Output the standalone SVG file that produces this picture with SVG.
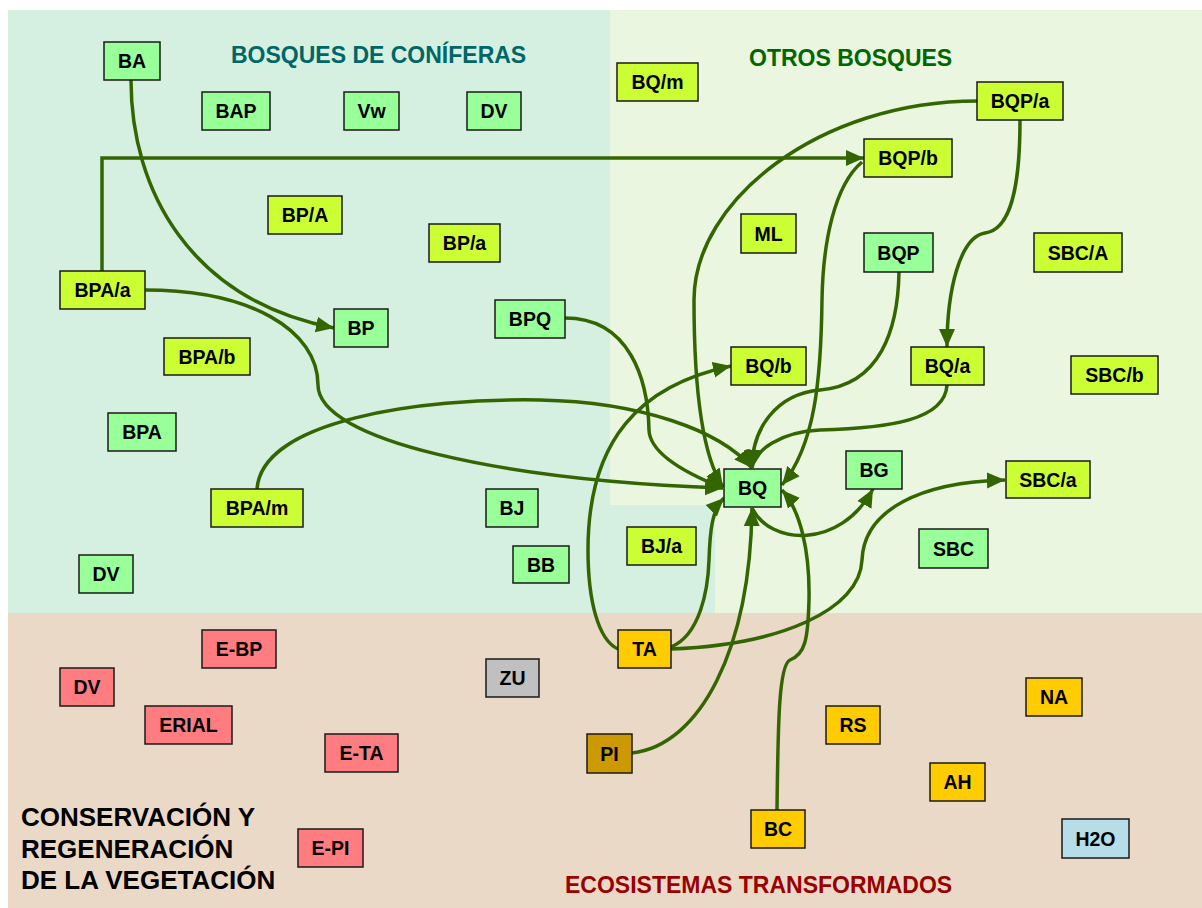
<svg xmlns="http://www.w3.org/2000/svg" width="1202" height="908" viewBox="0 0 1202 908">
<defs>
<marker id="ah" markerUnits="userSpaceOnUse" markerWidth="20" markerHeight="18" refX="18" refY="8" orient="auto" viewBox="0 0 20 16">
<path d="M0,0 L18,8 L0,16 Z" fill="#336600"/>
</marker>
<style>
.bg{stroke:none}
.n rect{stroke:#1a1a1a;stroke-width:1.5}
.n text{font-family:"Liberation Sans",Arial,sans-serif;font-weight:bold;font-size:19.5px;fill:#000;text-anchor:middle}
.g rect{fill:#99FF99}
.y rect{fill:#CCFF33}
.r rect{fill:#FF7C80}
.o rect{fill:#FFCC00}
.gr rect{fill:#C0C0C0}
.pi rect{fill:#CC9900}
.w rect{fill:#B7DDE8}
.c path{fill:none;stroke:#336600;stroke-width:3.5}
.t{font-family:"Liberation Sans",Arial,sans-serif;font-weight:bold}
</style>
</defs>
<rect x="0" y="0" width="1202" height="908" fill="#ffffff"/>
<path class="bg" d="M8,10 H610 V505 H715 V613 H8 Z" fill="#D5F0E0"/>
<path class="bg" d="M610,10 H1202 V613 H715 V505 H610 Z" fill="#EAF6DF"/>
<rect class="bg" x="8" y="613" width="1194" height="295" fill="#EBD9C8"/>
<text class="t" x="231" y="63" font-size="23" fill="#006666">BOSQUES DE CONÍFERAS</text>
<text class="t" x="749" y="66" font-size="23" fill="#006600">OTROS BOSQUES</text>
<text class="t" x="565" y="893" font-size="23" fill="#990000">ECOSISTEMAS TRANSFORMADOS</text>
<text class="t" font-size="26" fill="#000">
<tspan x="21" y="826">CONSERVACIÓN Y</tspan>
<tspan x="21" y="858">REGENERACIÓN</tspan>
<tspan x="21" y="889">DE LA VEGETACIÓN</tspan>
</text>
<g id="connectors" class="c">
<path marker-end="url(#ah)" d="M131,80 C131,190 190,300 334,328"/>
<path marker-end="url(#ah)" d="M102,271 L102,158 L864,158"/>
<path marker-end="url(#ah)" d="M145,290 C250,290 318,330 318,385 C318,440 500,480 723,488"/>
<path marker-end="url(#ah)" d="M565,318 C630,318 648,380 649,430 C650,455 690,475 723,488"/>
<path marker-end="url(#ah)" d="M257,489 C262,420 420,398 540,400 C640,402 720,430 752,468"/>
<path marker-end="url(#ah)" d="M977,101 C820,101 694,200 694,300 C694,400 705,460 723,487"/>
<path marker-end="url(#ah)" d="M862,162 C835,185 823,240 822,300 C821,380 815,445 782,485"/>
<path marker-end="url(#ah)" d="M899,272 C898,330 880,385 820,390 C775,394 752,430 752,468"/>
<path marker-end="url(#ah)" d="M947,385 C945,420 890,428 820,430 C780,432 755,450 752,468"/>
<path marker-end="url(#ah)" d="M1020,120 C1020,190 1010,230 985,233 C960,237 947,290 947,347"/>
<path marker-end="url(#ah)" d="M618,649 C598,640 588,600 588,550 C588,440 640,385 731,366"/>
<path marker-end="url(#ah)" d="M671,647 C700,635 708,590 709,560 C710,530 712,510 724,498"/>
<path marker-end="url(#ah)" d="M671,649 C780,645 860,610 862,560 C864,510 920,482 1005,480"/>
<path marker-end="url(#ah)" d="M632,753 C700,745 750,650 752,508"/>
<path marker-end="url(#ah)" d="M777,810 C778,720 779,665 790,660 C805,654 808,640 809,600 C810,550 800,510 782,490"/>
<path marker-end="url(#ah)" d="M752,508 C770,545 840,550 873,489"/>
</g>
<g id="n-BA" class="n g"><rect x="104" y="42" width="56" height="38"/><text x="132" y="68">BA</text></g>
<g id="n-BAP" class="n g"><rect x="202" y="92" width="68" height="38"/><text x="236" y="118">BAP</text></g>
<g id="n-Vw" class="n g"><rect x="344" y="92" width="55" height="38"/><text x="371.5" y="118">Vw</text></g>
<g id="n-DV1" class="n g"><rect x="467" y="92" width="54" height="38"/><text x="494" y="118">DV</text></g>
<g id="n-BP" class="n g"><rect x="334" y="309" width="54" height="38"/><text x="361" y="335">BP</text></g>
<g id="n-BPQ" class="n g"><rect x="495" y="300" width="70" height="38"/><text x="530" y="326">BPQ</text></g>
<g id="n-BPA" class="n g"><rect x="108" y="413" width="68" height="38"/><text x="142" y="439">BPA</text></g>
<g id="n-DV2" class="n g"><rect x="79" y="555" width="54" height="38"/><text x="106" y="581">DV</text></g>
<g id="n-BJ" class="n g"><rect x="486" y="489" width="52" height="38"/><text x="512" y="515">BJ</text></g>
<g id="n-BB" class="n g"><rect x="513" y="546" width="56" height="37"/><text x="541" y="571.5">BB</text></g>
<g id="n-BQ" class="n g"><rect x="724" y="469" width="57" height="38"/><text x="752.5" y="495">BQ</text></g>
<g id="n-BG" class="n g"><rect x="846" y="451" width="56" height="38"/><text x="874" y="477">BG</text></g>
<g id="n-BQP" class="n g"><rect x="864" y="233" width="69" height="39"/><text x="898.5" y="259.5">BQP</text></g>
<g id="n-SBC" class="n g"><rect x="919" y="529" width="69" height="39"/><text x="953.5" y="555.5">SBC</text></g>
<g id="n-BPA-A" class="n y"><rect x="268" y="196" width="74" height="38"/><text x="305" y="222">BP/A</text></g>
<g id="n-BP-a" class="n y"><rect x="429" y="224" width="71" height="38"/><text x="464.5" y="250">BP/a</text></g>
<g id="n-BPA-a" class="n y"><rect x="60" y="271" width="85" height="38"/><text x="102.5" y="297">BPA/a</text></g>
<g id="n-BPA-b" class="n y"><rect x="164" y="338" width="86" height="37"/><text x="207" y="363.5">BPA/b</text></g>
<g id="n-BPA-m" class="n y"><rect x="211" y="489" width="92" height="38"/><text x="257" y="515">BPA/m</text></g>
<g id="n-BQ-m" class="n y"><rect x="617" y="63" width="81" height="38"/><text x="657.5" y="89">BQ/m</text></g>
<g id="n-BQP-a" class="n y"><rect x="977" y="82" width="86" height="38"/><text x="1020" y="108">BQP/a</text></g>
<g id="n-BQP-b" class="n y"><rect x="864" y="139" width="88" height="38"/><text x="908" y="165">BQP/b</text></g>
<g id="n-ML" class="n y"><rect x="741" y="214" width="55" height="39"/><text x="768.5" y="240.5">ML</text></g>
<g id="n-SBC-A" class="n y"><rect x="1034" y="233" width="88" height="39"/><text x="1078" y="259.5">SBC/A</text></g>
<g id="n-BQ-b" class="n y"><rect x="731" y="347" width="75" height="38"/><text x="768.5" y="373">BQ/b</text></g>
<g id="n-BQ-a" class="n y"><rect x="911" y="347" width="73" height="38"/><text x="947.5" y="373">BQ/a</text></g>
<g id="n-SBC-b" class="n y"><rect x="1071" y="356" width="87" height="38"/><text x="1114.5" y="382">SBC/b</text></g>
<g id="n-SBC-a" class="n y"><rect x="1006" y="461" width="84" height="37"/><text x="1048" y="486.5">SBC/a</text></g>
<g id="n-BJ-a" class="n y"><rect x="627" y="527" width="69" height="38"/><text x="661.5" y="553">BJ/a</text></g>
<g id="n-E-BP" class="n r"><rect x="202" y="630" width="74" height="38"/><text x="239" y="656">E-BP</text></g>
<g id="n-DV3" class="n r"><rect x="60" y="668" width="54" height="38"/><text x="87" y="694">DV</text></g>
<g id="n-ERIAL" class="n r"><rect x="145" y="706" width="87" height="38"/><text x="188.5" y="732">ERIAL</text></g>
<g id="n-E-TA" class="n r"><rect x="325" y="734" width="73" height="38"/><text x="361.5" y="760">E-TA</text></g>
<g id="n-E-PI" class="n r"><rect x="298" y="829" width="65" height="38"/><text x="330.5" y="855">E-PI</text></g>
<g id="n-ZU" class="n gr"><rect x="486" y="659" width="53" height="38"/><text x="512.5" y="685">ZU</text></g>
<g id="n-TA" class="n o"><rect x="618" y="630" width="53" height="38"/><text x="644.5" y="656">TA</text></g>
<g id="n-PI" class="n pi"><rect x="587" y="734" width="45" height="39"/><text x="609.5" y="760.5">PI</text></g>
<g id="n-RS" class="n o"><rect x="826" y="706" width="54" height="38"/><text x="853" y="732">RS</text></g>
<g id="n-NA" class="n o"><rect x="1026" y="678" width="56" height="38"/><text x="1054" y="704">NA</text></g>
<g id="n-AH" class="n o"><rect x="930" y="763" width="55" height="38"/><text x="957.5" y="789">AH</text></g>
<g id="n-BC" class="n o"><rect x="751" y="810" width="54" height="38"/><text x="778" y="836">BC</text></g>
<g id="n-H2O" class="n w"><rect x="1062" y="819" width="67" height="39"/><text x="1095.5" y="845.5">H2O</text></g>
</svg>
